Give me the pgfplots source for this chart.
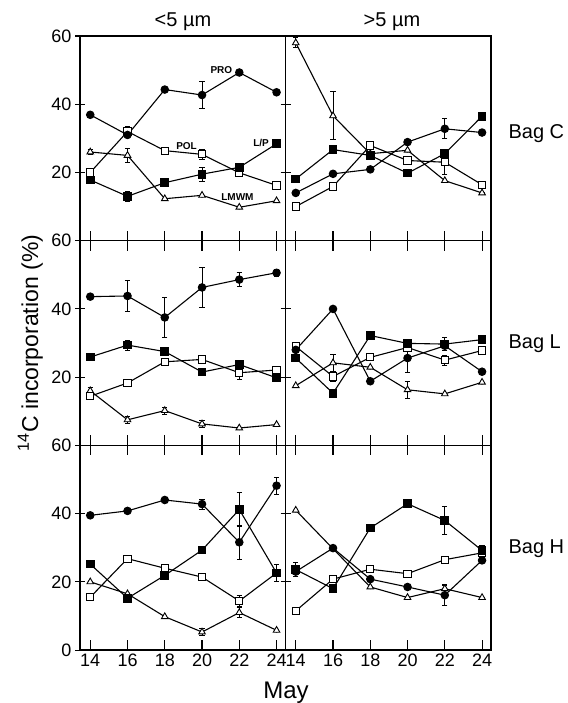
\documentclass[border=0pt]{standalone}
\usepackage{fontspec}
\setmainfont{Liberation Sans}
\usepackage{pgfplots}
\usepackage{pgfplotstable}
\pgfplotsset{compat=1.18}

% columns: day, then value and error for PRO, POL, L/P, LMWM
\pgfplotstableread{
day PRO PROe POL POLe LP LPe LM LMe
14 36.9 0   20.0 0   17.8 0   26.0 0.8
16 31.0 0   32.0 1.5 13.0 1.5 25.0 2.0
18 44.3 0   26.4 0   17.0 0   12.3 0
20 42.7 4.0 25.3 1.5 19.5 2.0 13.3 0
22 49.3 1.0 19.9 0   21.5 0   9.8  0
24 43.5 0   16.2 0   28.4 0   11.7 0
}\CL
\pgfplotstableread{
day PRO PROe POL POLe LP LPe LM LMe
14 14.0 0   10.0 0   18.1 0   58.0 1.5
16 19.6 0   15.9 0   26.7 0   36.6 7.0
18 20.9 0   27.9 0   25.0 0   25.5 0
20 28.9 0   23.5 0   19.8 0   26.5 0
22 32.8 2.9 23.0 3.5 25.5 0   17.6 0
24 31.7 0   16.4 0   36.5 0   14.0 0
}\CR
\pgfplotstableread{
day PRO PROe POL POLe LP LPe LM LMe
14 43.6 0   14.4 0   25.9 0   16.0 1.0
16 43.8 4.5 18.3 0   29.4 1.5 7.5  1.0
18 37.5 6.0 24.5 0   27.5 0   10.2 1.0
20 46.3 6.0 25.2 0   21.5 0   6.3  1.0
22 48.6 2.0 21.3 2.0 23.7 1.0 5.1  0
24 50.6 1.0 22.1 0   19.8 0   6.1  0
}\LL
\pgfplotstableread{
day PRO PROe POL POLe LP LPe LM LMe
14 28.0 0   29.0 0   25.6 1.0 17.5 0
16 40.0 0   20.2 1.5 15.3 0   24.2 2.5
18 18.8 0   25.8 0   32.2 0   22.9 0
20 25.6 4.2 28.7 0   29.9 0   16.3 2.5
22 29.2 0   25.0 1.5 29.7 2.0 15.1 0
24 21.6 0   27.8 1.0 31.0 1.0 18.5 0
}\LR
\pgfplotstableread{
day PRO PROe POL POLe LP LPe LM LMe
14 39.5 0   15.5 0   25.2 0   20.0 0
16 40.8 0   26.8 0   15.2 0   16.5 0
18 44.0 0   24.0 0   21.9 0   9.8  0
20 42.8 1.5 21.4 1.0 29.3 0   5.3  1.0
22 31.6 5.0 14.4 1.5 41.2 5.0 11.0 1.5
24 48.2 2.5 22.6 0   22.6 2.5 5.8  0
}\HL
\pgfplotstableread{
day PRO PROe POL POLe LP LPe LM LMe
14 23.0 0   11.5 0   23.6 2.0 41.0 0
16 29.9 0   20.8 0   18.0 0   29.7 0
18 20.8 0   23.7 0   35.8 1.0 18.5 0
20 18.5 0   22.4 0   42.9 1.0 15.4 0
22 16.1 3.0 26.5 0   38.0 4.0 18.0 1.0
24 26.3 0   28.5 0   29.2 1.5 15.4 0
}\HR

\pgfplotsset{
  panel/.style={
    scale only axis, width=205.5pt, height=204.7pt,
    anchor=north west,
    xmin=13.45, xmax=24.48, ymin=0, ymax=60,
    xtick={14,16,18,20,22,24}, ytick={0,20,40,60},
    axis line style={line width=1.5pt},
    tick style={black, line width=1.1pt},
    major tick length=10pt,
    xtick align=inside, ytick align=center,
    ytick pos=left,
    xticklabels={}, yticklabels={},
    /pgf/number format/assume math mode=true,
    tick label style={font=\fontsize{18}{18}\selectfont},
    clip=false,
  },
  errs/.style={forget plot, only marks, mark=none,
    error bars/y dir=both, error bars/y explicit,
    error bars/error bar style={black, line width=0.9pt, solid},
    error bars/error mark options={black, rotate=90, mark size=2.6pt, line width=0.9pt}},
  ser/.style={black, line width=1.1pt},
  pro/.style={ser, mark=*, mark size=3.7pt},
  pol/.style={ser, mark=square*, mark size=3.6pt, mark options={fill=white, draw=black, line width=1pt}},
  lp/.style={ser, mark=square*, mark size=3.8pt},
  lm/.style={ser, mark=triangle*, mark size=3.8pt, mark options={fill=white, draw=black, line width=0.9pt}},
}

\newcommand{\four}[1]{%
  \addplot[errs] table[x=day, y=LM,  y error=LMe]  {#1};
  \addplot[errs] table[x=day, y=POL, y error=POLe] {#1};
  \addplot[errs] table[x=day, y=LP,  y error=LPe]  {#1};
  \addplot[errs] table[x=day, y=PRO, y error=PROe] {#1};
  \addplot[lm]  table[x=day, y=LM]  {#1};
  \addplot[pol] table[x=day, y=POL] {#1};
  \addplot[lp]  table[x=day, y=LP]  {#1};
  \addplot[pro] table[x=day, y=PRO] {#1};
}

\begin{document}
\begin{tikzpicture}[x=1pt, y=1pt]
\useasboundingbox (0,0) rectangle (567,-703);

% row 1: Bag C
\begin{axis}[panel, at={(80pt,-36pt)}, xtick pos=bottom,
  yticklabels={,20,40,60}]
\four{\CL}
\node[font=\fontsize{10}{10}\selectfont\bfseries] at (axis cs:21.04,50.1) {PRO};
\node[font=\fontsize{10}{10}\selectfont\bfseries] at (axis cs:19.17,27.6) {POL};
\node[font=\fontsize{10}{10}\selectfont\bfseries] at (axis cs:23.17,28.7) {L/P};
\node[font=\fontsize{10}{10}\selectfont\bfseries] at (axis cs:21.9,12.9) {LMWM};
\end{axis}
\begin{axis}[panel, at={(285.5pt,-36pt)}, xtick pos=bottom]
\four{\CR}
\end{axis}

% row 2: Bag L
\begin{axis}[panel, at={(80pt,-240.7pt)}, xtick pos=both,
  yticklabels={,20,40,60}]
\four{\LL}
\end{axis}
\begin{axis}[panel, at={(285.5pt,-240.7pt)}, xtick pos=both]
\four{\LR}
\end{axis}

% row 3: Bag H
\begin{axis}[panel, at={(80pt,-445.4pt)}, xtick pos=both,
  yticklabels={0,20,40,60}, xticklabels={14,16,18,20,22,24}]
\four{\HL}
\end{axis}
\begin{axis}[panel, at={(285.5pt,-445.4pt)}, xtick pos=both,
  xticklabels={14,16,18,20,22,24}]
\four{\HR}
\end{axis}

\node[anchor=base, font=\fontsize{20}{20}\selectfont] at (183,-27) {<5 µm};
\node[anchor=base, font=\fontsize{20}{20}\selectfont] at (392,-27) {>5 µm};
\node[anchor=base west, font=\fontsize{20}{20}\selectfont] at (505,-139) {Bag C};
\node[anchor=base west, font=\fontsize{20}{20}\selectfont] at (505,-348) {Bag L};
\node[anchor=base west, font=\fontsize{20}{20}\selectfont] at (505,-553) {Bag H};
\node[anchor=base, font=\fontsize{24}{24}\selectfont] at (286,-698) {May};
\node[anchor=base, rotate=90, font=\fontsize{23}{23}\selectfont] at (38,-343) {\textsuperscript{14}C incorporation (\%)};
\end{tikzpicture}
\end{document}
